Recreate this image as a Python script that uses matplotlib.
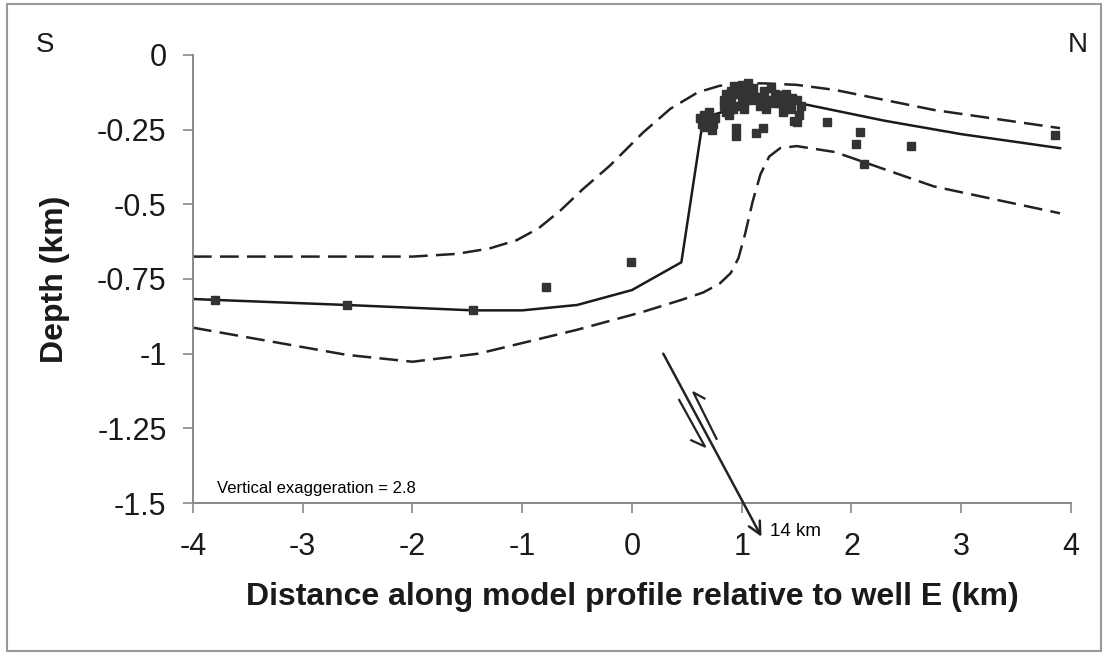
import matplotlib
matplotlib.use("Agg")
import matplotlib.pyplot as plt
from matplotlib.patches import Rectangle

plt.rcParams["font.family"] = ["Liberation Sans", "DejaVu Sans"]
plt.rcParams["axes.unicode_minus"] = False

# model profile (solid) and its bounds (dashed), depth in km
model_x = [-4.0, -3.8, -2.6, -1.45, -1.0, -0.5, 0.0, 0.45, 0.65, 1.2, 1.6, 2.3, 3.0, 3.9]
model_y = [-0.817, -0.82, -0.837, -0.855, -0.855, -0.837, -0.787, -0.694, -0.21, -0.15, -0.167, -0.22, -0.265, -0.312]

upper_x = [-4.0, -2.0, -1.6, -1.3, -1.05, -0.85, -0.65, -0.45, -0.2, 0.1, 0.35, 0.6, 0.8, 1.0, 1.2, 1.5, 1.85, 2.75, 3.9]
upper_y = [-0.675, -0.675, -0.666, -0.648, -0.62, -0.58, -0.52, -0.45, -0.37, -0.26, -0.18, -0.125, -0.103, -0.095, -0.095, -0.10, -0.117, -0.184, -0.245]

lower_x = [-4.0, -3.2, -2.6, -2.0, -1.4, -0.5, 0.1, 0.45, 0.65, 0.8, 0.9, 0.97, 1.03, 1.1, 1.17, 1.25, 1.35, 1.5, 1.85, 2.75, 3.9]
lower_y = [-0.913, -0.965, -1.004, -1.027, -1.0, -0.92, -0.86, -0.82, -0.795, -0.765, -0.73, -0.68, -0.60, -0.49, -0.40, -0.34, -0.312, -0.305, -0.325, -0.44, -0.53]

# observed depths
obs_x = [-3.8, -2.6, -1.45, -0.78, -0.01,
         0.62, 0.66, 0.70, 0.66, 0.73, 0.76, 0.70, 0.74, 0.64,
         0.84, 0.86, 0.88, 0.92, 0.90, 0.90, 0.93, 0.86, 0.84,
         0.97, 1.00, 1.05, 1.00, 1.08, 1.10, 1.02, 1.06, 0.98, 1.12, 1.04,
         1.15, 1.20, 1.25, 1.22, 1.30, 1.17, 1.27, 1.19, 1.30,
         1.35, 1.40, 1.45, 1.50, 1.52, 1.38, 1.48, 1.42, 1.54, 1.34, 1.46,
         0.95, 0.95, 1.13, 1.19, 1.50,
         1.78, 2.08, 2.04, 2.11, 2.54, 3.85]
obs_y = [-0.82, -0.837, -0.855, -0.776, -0.694,
         -0.21, -0.20, -0.22, -0.24, -0.25, -0.21, -0.19, -0.23, -0.23,
         -0.17, -0.13, -0.20, -0.18, -0.15, -0.12, -0.105, -0.19, -0.15,
         -0.13, -0.10, -0.12, -0.16, -0.15, -0.11, -0.18, -0.095, -0.17, -0.14, -0.14,
         -0.14, -0.12, -0.15, -0.18, -0.13, -0.17, -0.11, -0.15, -0.16,
         -0.16, -0.13, -0.18, -0.15, -0.20, -0.19, -0.22, -0.16, -0.17, -0.135, -0.145,
         -0.245, -0.27, -0.26, -0.245, -0.223,
         -0.225, -0.257, -0.299, -0.366, -0.305, -0.268]

x_ticks = [-4, -3, -2, -1, 0, 1, 2, 3, 4]
y_ticks = [0, -0.25, -0.5, -0.75, -1, -1.25, -1.5]
y_tick_labels = ["0", "-0.25", "-0.5", "-0.75", "-1", "-1.25", "-1.5"]

# fault symbol (data coords)
fault_start = (0.285, -1.0)
fault_end = (1.18, -1.613)
shear_left = ([0.43, 0.665, 0.54], [-1.155, -1.311, -1.29])
shear_right = ([0.77, 0.56, 0.66], [-1.285, -1.13, -1.15])

fig = plt.figure(figsize=(11.04, 6.53), dpi=100)
ax = fig.add_axes((0.1748, 0.2297, 0.7953, 0.6861))

dash = (0, (7.5, 3.3))
ax.plot(upper_x, upper_y, color="#222222", lw=1.8, linestyle=dash)
ax.plot(lower_x, lower_y, color="#222222", lw=1.8, linestyle=dash)
ax.plot(model_x, model_y, color="#1a1a1a", lw=1.8)
ax.plot(obs_x, obs_y, linestyle="none", marker="s", markersize=5.8,
        color="#333333", zorder=5)

ax.annotate("", xy=fault_end, xytext=fault_start, annotation_clip=False,
            arrowprops=dict(arrowstyle="->", lw=1.8, color="#222222",
                            mutation_scale=22, shrinkA=0, shrinkB=0))
ax.plot(*shear_left, color="#222222", lw=1.6, clip_on=False)
ax.plot(*shear_right, color="#222222", lw=1.6, clip_on=False)

ax.text(1.257, -1.597, "14 km", fontsize=13.5, va="center", ha="left")
ax.text(-3.78, -1.45, "Vertical exaggeration = 2.8", fontsize=12, va="center", ha="left")

ax.set_xlim(-4, 4)
ax.set_ylim(-1.5, 0)
ax.set_xticks(x_ticks)
ax.set_yticks(y_ticks)
ax.set_yticklabels(y_tick_labels)
ax.tick_params(axis="both", labelsize=22, length=7, width=1.2, color="#888888",
               direction="out", labelcolor="#1a1a1a")
ax.tick_params(axis="y", pad=12)
ax.tick_params(axis="x", pad=14)

for side in ("top", "right"):
    ax.spines[side].set_visible(False)
for side in ("left", "bottom"):
    ax.spines[side].set_color("#888888")
    ax.spines[side].set_linewidth(1.4)

ax.set_xlabel("Distance along model profile relative to well E (km)",
              fontsize=23, fontweight="bold", color="#1a1a1a")
ax.set_ylabel("Depth (km)", fontsize=23, fontweight="bold", color="#1a1a1a")
ax.xaxis.set_label_coords(0.5, -0.21)
ax.xaxis.label.set_verticalalignment("center")
ax.yaxis.set_label_coords(-0.157, 0.5)
ax.yaxis.label.set_verticalalignment("center")

fig.text(45 / 1104, 1 - 45 / 653, "S", fontsize=20, ha="center", va="center", color="#1a1a1a")
fig.text(1078 / 1104, 1 - 45 / 653, "N", fontsize=20, ha="center", va="center", color="#1a1a1a")

fig.patches.append(Rectangle((7 / 1104, 2 / 653), 1094 / 1104, 647 / 653,
                             transform=fig.transFigure, fill=False,
                             edgecolor="#999999", lw=1.5))

fig.savefig("out.png", dpi=100)
